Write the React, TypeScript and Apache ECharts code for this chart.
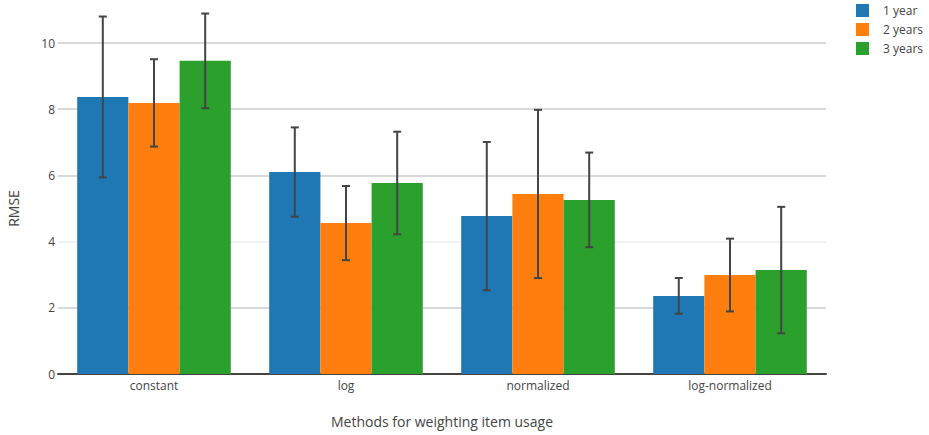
import React, { useEffect, useRef } from "react";
import * as echarts from "echarts";

const categories = ["constant", "log", "normalized", "log-normalized"];
const seriesNames = ["1 year", "2 years", "3 years"];
const oneYear = [8.37, 6.1, 4.77, 2.36];
const twoYears = [8.19, 4.56, 5.44, 2.99];
const threeYears = [9.46, 5.77, 5.26, 3.14];
const oneYearErr = [2.43, 1.35, 2.24, 0.54];
const twoYearsErr = [1.32, 1.12, 2.54, 1.1];
const threeYearsErr = [1.43, 1.55, 1.43, 1.91];
const yTicks = [0, 2, 4, 6, 8, 10];

const colors = ["#1f77b4", "#ff7f0e", "#2ca02c"];
const values = [oneYear, twoYears, threeYears];
const errors = [oneYearErr, twoYearsErr, threeYearsErr];

export default function App() {
  const ref = useRef<HTMLDivElement>(null);
  useEffect(() => {
    if (!ref.current) return;
    const chart = echarts.init(ref.current, null, { renderer: "svg" });
    const font = "'Open Sans', sans-serif";
    const barSeries = values.map((vals, i) => ({
      name: seriesNames[i],
      type: "bar",
      data: vals,
      itemStyle: { color: colors[i] },
      barGap: "0%",
      barCategoryGap: "20%",
      z: 2,
    }));
    const errSeries = values.map((vals, i) => ({
      name: seriesNames[i] + " err",
      type: "custom",
      clip: false,
      z: 5,
      silent: true,
      data: vals.map((v, j) => [j, v, errors[i][j]]),
      encode: { x: 0, y: 1 },
      renderItem: (params: any, api: any) => {
        const idx = api.value(0);
        const v = api.value(1);
        const e = api.value(2);
        const band = api.size([1, 0])[0];
        const bw = (band * 0.8) / 3;
        const center = api.coord([idx, v]);
        const x = center[0] + (i - 1) * bw;
        const top = api.coord([idx, v + e])[1];
        const bot = api.coord([idx, v - e])[1];
        const cap = 4;
        const style = { stroke: "#444", lineWidth: 2 };
        return {
          type: "group",
          children: [
            { type: "line", shape: { x1: x, y1: top, x2: x, y2: bot }, style },
            { type: "line", shape: { x1: x - cap, y1: top, x2: x + cap, y2: top }, style },
            { type: "line", shape: { x1: x - cap, y1: bot, x2: x + cap, y2: bot }, style },
          ],
        };
      },
    }));
    chart.setOption({
      animation: false,
      textStyle: { fontFamily: font },
      legend: {
        data: seriesNames,
        orient: "vertical",
        left: 856,
        top: 4,
        padding: 0,
        itemWidth: 13,
        itemHeight: 13,
        itemGap: 6,
        icon: "rect",
        textStyle: { color: "#444", fontSize: 12, fontFamily: font, padding: [0, 0, 0, 9] },
      },
      grid: { left: 58, right: 103, top: 43, bottom: 61, outerBoundsMode: "none", containLabel: false },
      xAxis: {
        type: "category",
        data: categories,
        name: "Methods for weighting item usage",
        nameLocation: "middle",
        nameGap: 40,
        nameTextStyle: { color: "#444", fontSize: 14, fontFamily: font },
        axisLine: { show: true, lineStyle: { color: "#444", width: 2 } },
        axisTick: { show: false },
        axisLabel: { color: "#444", fontSize: 12, margin: 5, fontFamily: font },
      },
      yAxis: {
        type: "value",
        min: yTicks[0],
        max: yTicks[yTicks.length - 1],
        interval: 2,
        name: "RMSE",
        nameLocation: "middle",
        nameGap: 38,
        nameTextStyle: { color: "#444", fontSize: 14, fontFamily: font },
        axisLine: { show: false },
        axisTick: { show: false },
        axisLabel: { color: "#444", fontSize: 12, margin: 3, fontFamily: font },
        splitLine: {
          show: true,
          lineStyle: { color: ["#ccc", "#ccc", "#eee", "#ccc", "#ccc", "#ccc"], width: 1.5 },
        },
      },
      series: [...barSeries, ...errSeries],
    });
    return () => chart.dispose();
  }, []);
  return (
    <div
      ref={ref}
      style={{ position: "fixed", left: 0, top: 0, width: 929, height: 435, background: "#fff" }}
    />
  );
}
